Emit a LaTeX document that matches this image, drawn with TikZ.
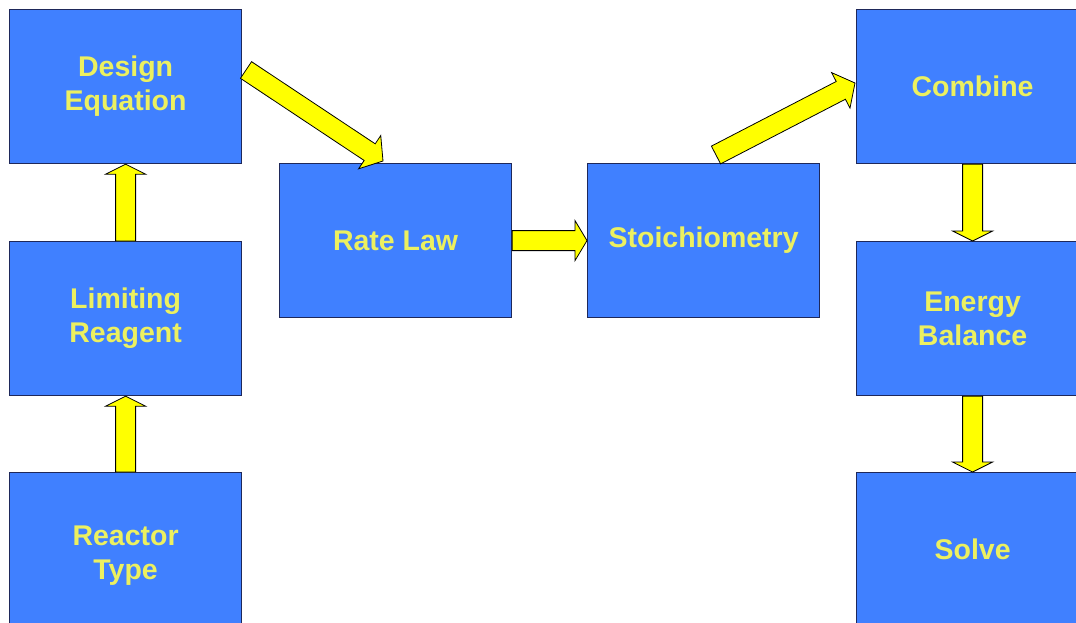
\documentclass[tikz,border=0pt]{standalone}
\usepackage{fontspec}
\newfontfamily\boxfont{Liberation Sans}
\usetikzlibrary{calc}
\definecolor{boxblue}{RGB}{64,128,255}
\definecolor{boxedge}{RGB}{30,40,90}
\definecolor{txtyellow}{RGB}{236,240,96}
\definecolor{arrowyellow}{RGB}{255,255,0}
\newcommand\blockarrow[3][12]{%
  \path ($(#3)!#1pt!(#2)$) coordinate (bh);
  \draw[barrow] ($(#2)!10pt!90:(#3)$) -- ($(bh)!10pt!90:(#3)$) -- ($(bh)!20pt!90:(#3)$) -- (#3) -- ($(bh)!20pt!-90:(#3)$) -- ($(bh)!10pt!-90:(#3)$) -- ($(#2)!10pt!-90:(#3)$) -- cycle;
}
\begin{document}
\begin{tikzpicture}[x=1pt,y=-1pt,
  box/.style={draw=boxedge, line width=1.2pt, fill=boxblue, minimum width=232pt, minimum height=154pt, anchor=north west, inner sep=0pt, font=\boxfont\bfseries\fontsize{28.5}{34}\selectfont, text=txtyellow, align=center},
  barrow/.style={draw=black, line width=0.8pt, fill=arrowyellow, line join=miter}]
\useasboundingbox (0,0) rectangle (1076,623);
\clip (0,0) rectangle (1076,623);
\fill[white] (0,0) rectangle (1076,623);
\node[box] (de) at (9,9) {Design\\Equation};
\node[box] (lim) at (9,241) {Limiting\\Reagent};
\node[box, minimum height=166pt] (rt) at (9,472) {Reactor\\Type};
\node[box] (rl) at (279,163) {Rate Law};
\node[box] (st) at (587,163) {Stoichiometry};
\node[box] (cb) at (856,9) {Combine};
\node[box] (eb) at (856,241) {Energy\\Balance};
\node[box] (sv) at (856,472) {Solve};
\coordinate (d1) at (246,70);
\coordinate (d2) at (383,161);
\coordinate (s1) at (716,155);
\coordinate (s2) at (855,83);
\blockarrow[10]{rt.north}{lim.south}
\blockarrow[10]{lim.north}{de.south}
\blockarrow[16]{d1}{d2}
\blockarrow[12]{rl.east}{st.west}
\blockarrow[16]{s1}{s2}
\blockarrow[10]{cb.south}{eb.north}
\blockarrow[10]{eb.south}{sv.north}
\end{tikzpicture}
\end{document}
